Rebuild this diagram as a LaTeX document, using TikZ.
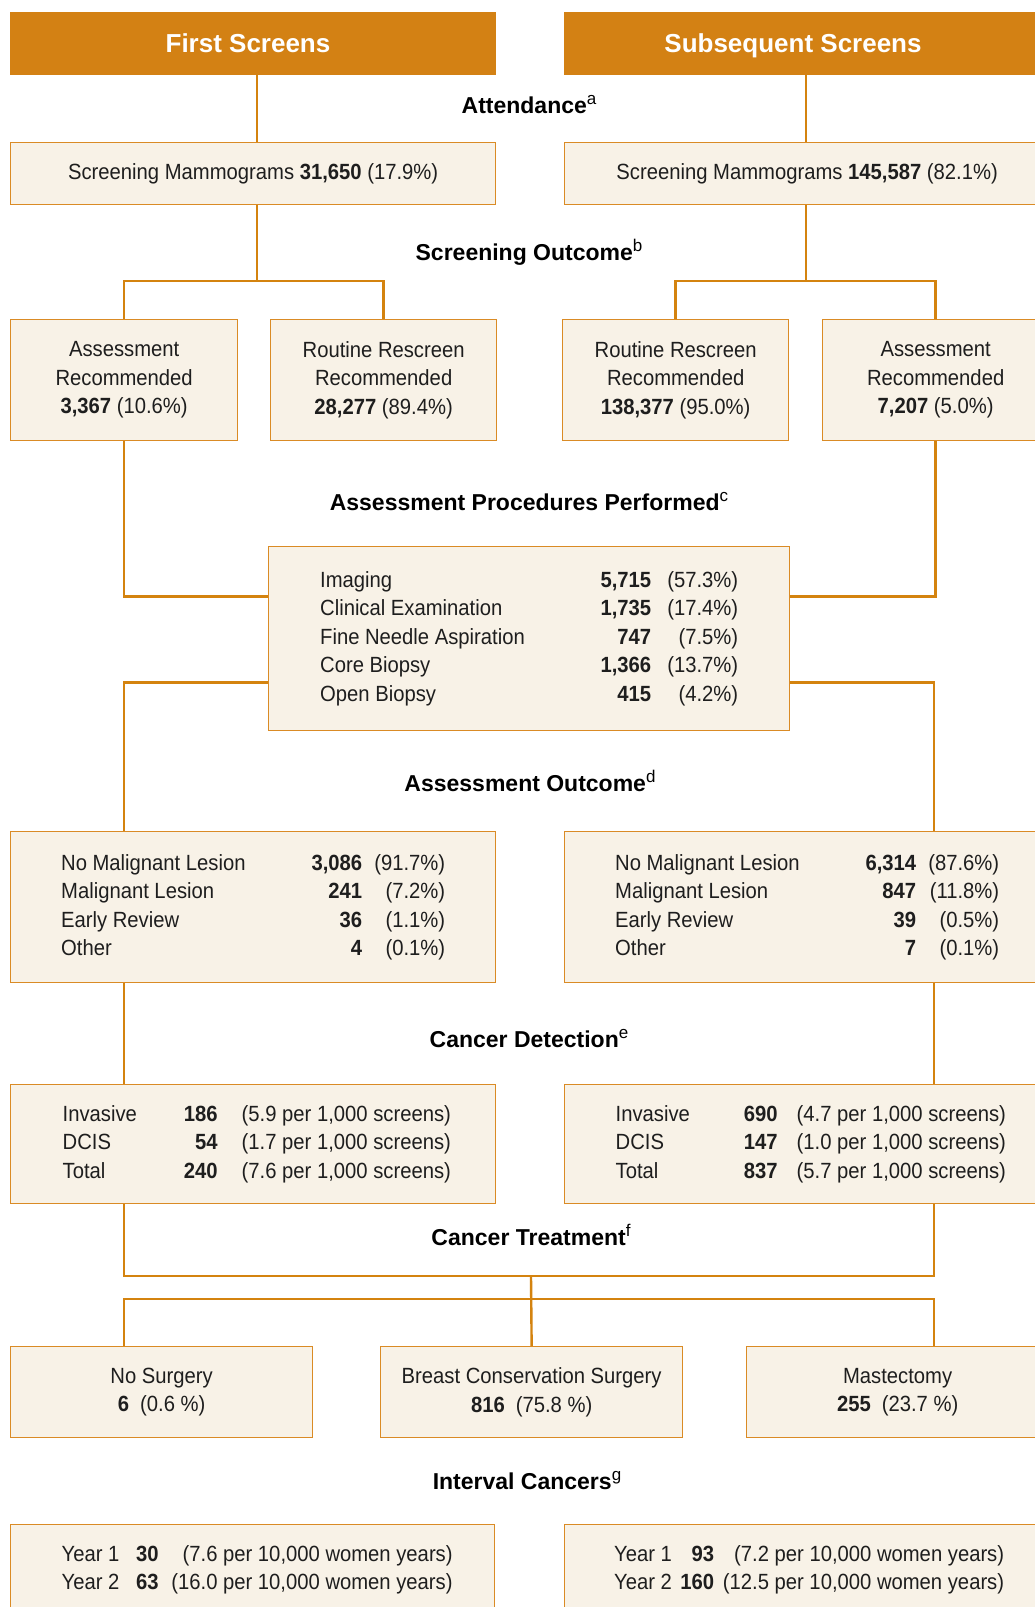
\documentclass[tikz,border=0pt]{standalone}
\usepackage{fontspec}
\setmainfont{Liberation Sans}
\newfontfamily\boxfont[FakeStretch=0.92]{Liberation Sans}
\usetikzlibrary{calc,backgrounds}
\definecolor{hdr}{HTML}{D38114}
\definecolor{ln}{HTML}{D4830F}
\definecolor{boxfill}{HTML}{F8F2E7}
\definecolor{boxline}{HTML}{DA8B25}
\definecolor{txt}{HTML}{1E1E1E}
\newcommand{\supx}[1]{\raisebox{0.36em}{\fontsize{17}{17}\selectfont\mdseries #1}}
\newcommand{\prow}[3]{\makebox[331pt][l]{#1\hfill\textbf{#2}}\makebox[87pt][r]{#3}}
\newcommand{\orow}[3]{\makebox[301pt][l]{#1\hfill\textbf{#2}}\makebox[83pt][r]{#3}}
\newcommand{\drowL}[3]{\makebox[155pt][l]{#1\hfill\textbf{#2}}\hspace{24pt}\makebox[202pt][l]{#3}}
\newcommand{\drowR}[3]{\makebox[162pt][l]{#1\hfill\textbf{#2}}\hspace{19pt}\makebox[202pt][l]{#3}}
\newcommand{\irowL}[3]{\hspace{9pt}\makebox[97pt][l]{#1\hfill\textbf{#2}}\makebox[294pt][r]{#3}}
\newcommand{\irowR}[3]{\hspace{4pt}\makebox[100pt][l]{#1\hfill\textbf{#2}}\makebox[290pt][r]{#3}}
\begin{document}
\begin{tikzpicture}[x=1pt,y=-1pt,
  box/.style={draw=boxline, line width=1.3pt, fill=boxfill, inner sep=0pt, text=txt,
    font=\boxfont\fontsize{22}{28.5}\selectfont, align=center, anchor=north west},
  hdrbox/.style={fill=hdr, draw=hdr, line width=0.8pt, inner sep=0pt, anchor=north west},
  conn/.style={draw=ln, line width=2.4pt},
  lbl/.style={font=\bfseries\fontsize{23}{23}\selectfont, text=black, anchor=base},
  hdrtxt/.style={font=\bfseries\fontsize{26}{26}\selectfont, text=white, anchor=base}]
\useasboundingbox (0,0) rectangle (1035,1607);
\clip (0,0) rectangle (1035,1607);

% headers
\node[hdrbox, minimum width=485pt, minimum height=62pt] (hdrL) at (10,12) {};
\node[hdrbox, minimum width=485pt, minimum height=62pt] (hdrR) at (564,12) {};
\node[hdrtxt] (hdrLt) at (248,52) {First Screens};
\node[hdrtxt] (hdrRt) at (793,52) {Subsequent Screens};

% screening mammograms
\node[box, minimum width=485pt, minimum height=62pt] (mamL) at (10,142)
  {Screening Mammograms \textbf{31,650} (17.9\%)};
\node[box, minimum width=485pt, minimum height=62pt] (mamR) at (564,142)
  {Screening Mammograms \textbf{145,587} (82.1\%)};

% screening outcome
\node[box, minimum width=227pt, minimum height=121pt] (assL) at (10,319)
  {Assessment\\Recommended\\\textbf{3,367} (10.6\%)};
\node[box, minimum width=226pt, minimum height=121pt] (rouL) at (270,319)
  {Routine Rescreen\\Recommended\\\textbf{28,277} (89.4\%)};
\node[box, minimum width=226pt, minimum height=121pt] (rouR) at (562,319)
  {Routine Rescreen\\Recommended\\\textbf{138,377} (95.0\%)};
\node[box, minimum width=226pt, minimum height=121pt] (assR) at (822,319)
  {Assessment\\Recommended\\\textbf{7,207} (5.0\%)};

% procedures
\node[box, minimum width=521pt, minimum height=184pt] (proc) at (268,546)
  {\prow{Imaging}{5,715}{(57.3\%)}\\
   \prow{Clinical Examination}{1,735}{(17.4\%)}\\
   \prow{Fine Needle Aspiration}{747}{(7.5\%)}\\
   \prow{Core Biopsy}{1,366}{(13.7\%)}\\
   \prow{Open Biopsy}{415}{(4.2\%)}};

% assessment outcome
\node[box, minimum width=485pt, minimum height=151pt] (outL) at (10,831)
  {\orow{No Malignant Lesion}{3,086}{(91.7\%)}\\
   \orow{Malignant Lesion}{241}{(7.2\%)}\\
   \orow{Early Review}{36}{(1.1\%)}\\
   \orow{Other}{4}{(0.1\%)}};
\node[box, minimum width=485pt, minimum height=151pt] (outR) at (564,831)
  {\orow{No Malignant Lesion}{6,314}{(87.6\%)}\\
   \orow{Malignant Lesion}{847}{(11.8\%)}\\
   \orow{Early Review}{39}{(0.5\%)}\\
   \orow{Other}{7}{(0.1\%)}};

% cancer detection
\node[box, minimum width=485pt, minimum height=119pt] (detL) at (10,1084)
  {\drowL{Invasive}{186}{(5.9 per 1,000 screens)}\\
   \drowL{DCIS}{54}{(1.7 per 1,000 screens)}\\
   \drowL{Total}{240}{(7.6 per 1,000 screens)}};
\node[box, minimum width=485pt, minimum height=119pt] (detR) at (564,1084)
  {\drowR{Invasive}{690}{(4.7 per 1,000 screens)}\\
   \drowR{DCIS}{147}{(1.0 per 1,000 screens)}\\
   \drowR{Total}{837}{(5.7 per 1,000 screens)}};

% treatment
\node[box, minimum width=302pt, minimum height=91pt] (nos) at (10,1346)
  {No Surgery\\\textbf{6}\enspace(0.6 \%)};
\node[box, minimum width=302pt, minimum height=91pt] (brc) at (380,1346)
  {Breast Conservation Surgery\\\textbf{816}\enspace(75.8 \%)};
\node[box, minimum width=302pt, minimum height=91pt] (mas) at (746,1346)
  {Mastectomy\\\textbf{255}\enspace(23.7 \%)};

% interval cancers
\node[box, minimum width=484pt, minimum height=90pt] (intL) at (10,1524)
  {\irowL{Year 1}{30}{(7.6 per 10,000 women years)}\\
   \irowL{Year 2}{63}{(16.0 per 10,000 women years)}};
\node[box, minimum width=485pt, minimum height=90pt] (intR) at (564,1524)
  {\irowR{Year 1}{93}{(7.2 per 10,000 women years)}\\
   \irowR{Year 2}{160}{(12.5 per 10,000 women years)}};

% section labels
\node[lbl] (lA) at (529,113) {Attendance\supx{a}};
\node[lbl] (lB) at (529,260) {Screening Outcome\supx{b}};
\node[lbl] (lC) at (529,510) {Assessment Procedures Performed\supx{c}};
\node[lbl] (lD) at (530,791) {Assessment Outcome\supx{d}};
\node[lbl] (lE) at (529,1047) {Cancer Detection\supx{e}};
\node[lbl] (lF) at (531,1245) {Cancer Treatment\supx{f}};
\node[lbl] (lG) at (527,1489) {Interval Cancers\supx{g}};

% connector helpers
\coordinate (stL) at (257,281);
\coordinate (stR) at (806,281);
\coordinate (colL) at (124,0);
\coordinate (colR) at (934,0);
\coordinate (tMid) at (531,1276);
\coordinate (tBar) at (531,1299);

\begin{scope}[on background layer]
\fill[white] (0,0) rectangle (1035,1607);
\draw[conn] (hdrL.south -| stL) -- (mamL.north -| stL);
\draw[conn] (hdrR.south -| stR) -- (mamR.north -| stR);
\draw[conn] (mamL.south -| stL) -- (stL);
\draw[conn] (mamR.south -| stR) -- (stR);
\draw[conn] (assL.north) |- (stL) -| (rouL.north);
\draw[conn] (rouR.north) |- (stR) -| (assR.north);
\draw[conn] (assL.south) |- ([yshift=42pt]proc.west);
\draw[conn] (assR.south) |- ([yshift=42pt]proc.east);
\draw[conn] ([yshift=-44pt]proc.west) -| (colL |- outL.north);
\draw[conn] ([yshift=-44pt]proc.east) -| (colR |- outR.north);
\draw[conn] (colL |- outL.south) -- (colL |- detL.north);
\draw[conn] (colR |- outR.south) -- (colR |- detR.north);
\draw[conn] (colL |- detL.south) |- (tMid) -| (colR |- detR.south);
\draw[conn] (tMid) -- (brc.north);
\draw[conn] (colL |- nos.north) |- (tBar) -| (colR |- mas.north);
\end{scope}
\end{tikzpicture}
\end{document}
